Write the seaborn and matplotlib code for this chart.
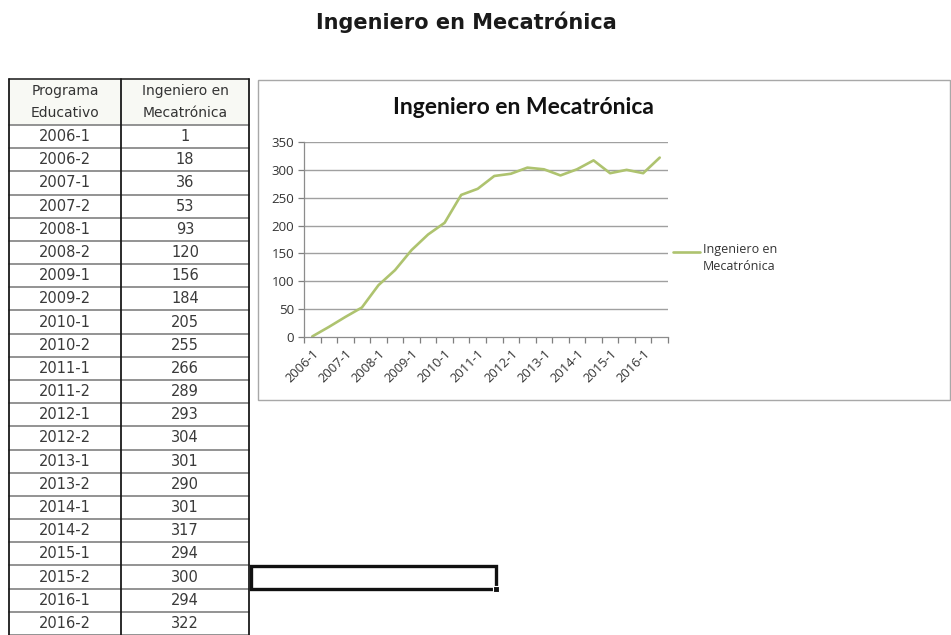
import numpy as np
import pandas as pd
import matplotlib
matplotlib.use("Agg")
import matplotlib.pyplot as plt
from matplotlib.patches import Rectangle
import seaborn as sns

# Enrolment per school period, Ingeniero en Mecatrónica
periodos = ["2006-1", "2006-2", "2007-1", "2007-2", "2008-1", "2008-2",
            "2009-1", "2009-2", "2010-1", "2010-2", "2011-1", "2011-2",
            "2012-1", "2012-2", "2013-1", "2013-2", "2014-1", "2014-2",
            "2015-1", "2015-2", "2016-1", "2016-2"]
alumnos = [1, 18, 36, 53, 93, 120, 156, 184, 205, 255, 266, 289,
           293, 304, 301, 290, 301, 317, 294, 300, 294, 322]
encabezados = [("Programa", "Educativo"), ("Ingeniero en", "Mecatrónica")]
titulo = "Ingeniero en Mecatrónica"
serie = "Ingeniero en\nMecatrónica"
yticks = [0, 50, 100, 150, 200, 250, 300, 350]

df = pd.DataFrame({"periodo": periodos, "alumnos": alumnos})
df["pos"] = np.arange(len(df))

sns.set_theme(style="white")
plt.rcParams["font.family"] = ["DejaVu Sans"]

W, H = 951, 635
fig = plt.figure(figsize=(W / 100, H / 100), dpi=100)
fig.patch.set_facecolor("white")

# Sheet canvas in pixel coordinates
sheet = fig.add_axes([0, 0, 1, 1])
sheet.set_xlim(0, W)
sheet.set_ylim(H, 0)
sheet.axis("off")

# Sheet heading
sheet.text(466, 22, titulo, ha="center", va="center", fontsize=15,
           fontweight="bold", color="#1a1a1a")

# ---- data table ----
x0, x1, x2 = 9, 121, 249
top, head_bot = 79, 125
row_h = (H - head_bot) / len(periodos)
bottom = head_bot + row_h * len(periodos)

sheet.add_patch(Rectangle((x0, top), x2 - x0, head_bot - top,
                          facecolor="#f8f9f4", edgecolor="none", zorder=1))
for i in range(len(periodos) + 1):
    y = head_bot + i * row_h
    sheet.plot([x0, x2], [y, y], color="#8a8a8a", lw=1.3, zorder=2)
sheet.plot([x0, x2], [top, top], color="#2a2a2a", lw=1.2, zorder=3)
for xv in (x0, x1, x2):
    sheet.plot([xv, xv], [top, bottom], color="#1a1a1a", lw=1.3, zorder=3)

for col, (l1, l2) in enumerate(encabezados):
    cx = (x0 + x1) / 2 if col == 0 else (x1 + x2) / 2
    sheet.text(cx, top + 12, l1, ha="center", va="center", fontsize=10,
               color="#333333", zorder=4)
    sheet.text(cx, top + 34, l2, ha="center", va="center", fontsize=10,
               color="#333333", zorder=4)

for i, (p, v) in enumerate(zip(periodos, alumnos)):
    cy = head_bot + (i + 0.5) * row_h
    sheet.text((x0 + x1) / 2, cy, p, ha="center", va="center",
               fontsize=10.5, color="#3a3a3a", zorder=4)
    sheet.text((x1 + x2) / 2, cy, str(v), ha="center", va="center",
               fontsize=10.5, color="#3a3a3a", zorder=4)

# Active cell next to the table
sel_row = periodos.index("2015-2")
sy0 = head_bot + sel_row * row_h
sheet.add_patch(Rectangle((251, sy0 + 1), 245, row_h - 1, facecolor="none",
                          edgecolor="#111111", lw=2.4, zorder=5))
sheet.add_patch(Rectangle((492.5, sy0 + row_h - 3), 6, 6,
                          facecolor="#111111", edgecolor="white", lw=0.8,
                          zorder=6))

# ---- embedded chart ----
sheet.add_patch(Rectangle((258, 80), 692, 320, facecolor="white",
                          edgecolor="#a8a8a8", lw=1.0, zorder=1))
sheet.text(523, 107, titulo, ha="center", va="center", fontsize=16.5,
           fontweight="bold", family=["Lato", "DejaVu Sans"],
           color="#111111", zorder=2)

ax = fig.add_axes([304 / W, 1 - 337 / H, (668 - 304) / W, (337 - 142) / H])
ax.set_facecolor("none")
sns.lineplot(data=df, x="pos", y="alumnos", ax=ax, color="#aec36f",
             lw=1.9, sort=False, legend=False)

ax.set_xlim(-0.5, len(periodos) - 0.5)
ax.set_ylim(0, 350)
ax.set_yticks(yticks)
ax.set_yticklabels([str(t) for t in yticks], fontsize=9.5, color="#333333",
                   family=["Open Sans", "DejaVu Sans"])
for t in yticks[1:]:
    ax.axhline(t, color="#a0a0a0", lw=1.0, zorder=0)

lab_pos = list(range(0, len(periodos), 2))
ax.set_xticks(lab_pos)
ax.set_xticklabels([periodos[i] for i in lab_pos], rotation=45, ha="right",
                   rotation_mode="anchor", fontsize=9.3, color="#333333",
                   family=["Open Sans", "DejaVu Sans"])
ax.set_xticks(np.arange(-0.5, len(periodos)), minor=True)
ax.tick_params(axis="x", which="major", length=0, pad=7)
ax.tick_params(axis="x", which="minor", length=4, width=0.9, color="#7f7f7f",
               direction="out", bottom=True)
ax.tick_params(axis="y", which="major", length=4, width=0.9, color="#7f7f7f",
               direction="out", left=True, pad=3)
ax.set_xlabel("")
ax.set_ylabel("")
for side in ("top", "right"):
    ax.spines[side].set_visible(False)
for side in ("left", "bottom"):
    ax.spines[side].set_color("#8c8c8c")
    ax.spines[side].set_linewidth(0.9)

# Legend entry
sheet.plot([673, 700], [252, 252], color="#aec36f", lw=1.9, zorder=2)
sheet.text(703, 243, serie, ha="left", va="top", fontsize=9,
           family=["Open Sans", "DejaVu Sans"], color="#333333",
           linespacing=1.35, zorder=2)

fig.savefig("out.png", dpi=100, facecolor="white")
